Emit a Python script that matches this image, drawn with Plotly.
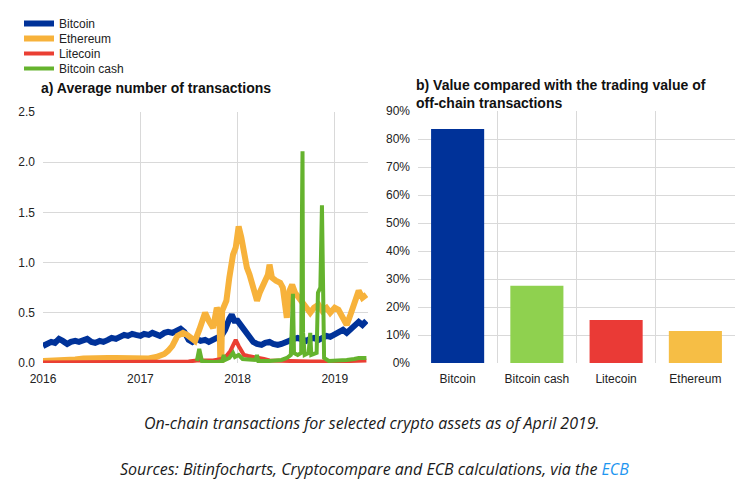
import plotly.graph_objects as go

# ---------------- data: panel a) average number of transactions ----------------
btc_dates = [
    "2016-01-01", "2016-01-15", "2016-02-01", "2016-02-15", "2016-03-01", "2016-03-15",
    "2016-04-01", "2016-04-15", "2016-05-01", "2016-05-15", "2016-06-01", "2016-06-15",
    "2016-07-01", "2016-07-15", "2016-08-01", "2016-08-15", "2016-09-01", "2016-09-15",
    "2016-10-01", "2016-10-15", "2016-11-01", "2016-11-15", "2016-12-01", "2016-12-15",
    "2017-01-01", "2017-01-15", "2017-02-01", "2017-02-15", "2017-03-01", "2017-03-15",
    "2017-04-01", "2017-04-15", "2017-05-01", "2017-05-15", "2017-06-01", "2017-06-15",
    "2017-07-01", "2017-07-15", "2017-08-01", "2017-08-15", "2017-09-01", "2017-09-15",
    "2017-10-01", "2017-10-15", "2017-11-01", "2017-11-15", "2017-12-01", "2017-12-10",
    "2017-12-20", "2018-01-01", "2018-01-15", "2018-02-01", "2018-02-15", "2018-03-01",
    "2018-03-15", "2018-04-01", "2018-04-15", "2018-05-01", "2018-05-15", "2018-06-01",
    "2018-06-15", "2018-07-01", "2018-07-15", "2018-08-01", "2018-08-15", "2018-09-01",
    "2018-09-15", "2018-10-01", "2018-10-15", "2018-11-01", "2018-11-15", "2018-12-01",
    "2018-12-15", "2019-01-01", "2019-01-15", "2019-02-01", "2019-02-15", "2019-03-01",
    "2019-03-15", "2019-04-01", "2019-04-15", "2019-04-30",
]
btc_values = [
    0.17, 0.19, 0.21, 0.20, 0.24, 0.22, 0.19, 0.21, 0.22, 0.21, 0.23, 0.24,
    0.21, 0.20, 0.22, 0.21, 0.23, 0.25, 0.24, 0.26, 0.28, 0.27, 0.29, 0.28,
    0.27, 0.29, 0.28, 0.30, 0.29, 0.27, 0.30, 0.31, 0.30, 0.32, 0.34, 0.31,
    0.23, 0.21, 0.24, 0.22, 0.23, 0.21, 0.24, 0.25, 0.27, 0.33, 0.44, 0.48,
    0.42, 0.42, 0.37, 0.30, 0.25, 0.21, 0.19, 0.18, 0.20, 0.21, 0.19, 0.18,
    0.19, 0.21, 0.23, 0.24, 0.25, 0.24, 0.22, 0.24, 0.25, 0.23, 0.25, 0.27,
    0.26, 0.29, 0.31, 0.33, 0.30, 0.34, 0.36, 0.41, 0.38, 0.42,
]

eth_dates = [
    "2016-01-01", "2016-02-01", "2016-03-01", "2016-04-01", "2016-05-01", "2016-06-01",
    "2016-07-01", "2016-08-01", "2016-09-01", "2016-10-01", "2016-11-01", "2016-12-01",
    "2017-01-01", "2017-02-01", "2017-03-01", "2017-04-01", "2017-04-15", "2017-05-01",
    "2017-05-20", "2017-06-10", "2017-06-25", "2017-07-10", "2017-07-25", "2017-08-10",
    "2017-08-20", "2017-09-01", "2017-09-15", "2017-10-01", "2017-10-15", "2017-10-25",
    "2017-10-28", "2017-11-01", "2017-11-04", "2017-11-20", "2017-12-01", "2017-12-15",
    "2017-12-25", "2018-01-05", "2018-01-15", "2018-01-25", "2018-02-05", "2018-02-15",
    "2018-03-01", "2018-03-15", "2018-03-25", "2018-04-10", "2018-04-25", "2018-05-01",
    "2018-05-10", "2018-05-25", "2018-06-10", "2018-06-20", "2018-06-28", "2018-07-05",
    "2018-07-15", "2018-07-25", "2018-08-05", "2018-08-20", "2018-09-01", "2018-09-15",
    "2018-10-01", "2018-10-15", "2018-11-01", "2018-11-15", "2018-12-01", "2018-12-15",
    "2019-01-01", "2019-01-15", "2019-02-01", "2019-02-15", "2019-03-01", "2019-03-15",
    "2019-04-01", "2019-04-15", "2019-04-30",
]
eth_values = [
    0.02, 0.02, 0.025, 0.03, 0.035, 0.045, 0.05, 0.045, 0.05, 0.05, 0.045, 0.05,
    0.05, 0.045, 0.06, 0.09, 0.12, 0.17, 0.27, 0.30, 0.28, 0.24, 0.22, 0.33,
    0.42, 0.50, 0.42, 0.35, 0.55, 0.50, 0.03, 0.03, 0.52, 0.62, 0.85, 1.08,
    1.15, 1.36, 1.25, 1.10, 0.95, 0.88, 0.75, 0.62, 0.70, 0.78, 0.88, 0.98,
    0.85, 0.82, 0.80, 0.75, 0.55, 0.45, 0.72, 0.78, 0.70, 0.65, 0.62, 0.55,
    0.50, 0.55, 0.58, 0.52, 0.55, 0.50, 0.55, 0.53, 0.45, 0.38, 0.48, 0.58,
    0.72, 0.65, 0.68,
]

ltc_dates = [
    "2016-01-01", "2016-06-01", "2017-01-01", "2017-05-01", "2017-07-01", "2017-08-01",
    "2017-09-01", "2017-10-01", "2017-11-01", "2017-11-20", "2017-12-05", "2017-12-15",
    "2017-12-25", "2018-01-05", "2018-01-15", "2018-01-25", "2018-02-10", "2018-03-01",
    "2018-03-20", "2018-04-10", "2018-05-01", "2018-07-01", "2018-10-01", "2019-01-01",
    "2019-03-01", "2019-04-30",
]
ltc_values = [
    0.005, 0.006, 0.008, 0.01, 0.015, 0.025, 0.02, 0.025, 0.04, 0.07, 0.12, 0.18,
    0.23, 0.17, 0.12, 0.08, 0.07, 0.06, 0.06, 0.04, 0.025, 0.02, 0.015, 0.015,
    0.02, 0.025,
]

bch_dates = [
    "2017-08-01", "2017-08-10", "2017-08-20", "2017-09-15", "2017-10-15", "2017-11-05",
    "2017-11-10", "2017-11-15", "2017-12-01", "2017-12-15", "2017-12-22", "2018-01-05",
    "2018-01-20", "2018-02-15", "2018-03-10", "2018-03-15", "2018-03-20", "2018-05-01",
    "2018-06-15", "2018-07-05", "2018-07-20", "2018-07-28", "2018-08-01", "2018-08-15",
    "2018-08-28", "2018-08-31", "2018-09-02", "2018-09-04", "2018-09-10", "2018-09-25",
    "2018-10-01", "2018-10-05", "2018-10-25", "2018-10-30", "2018-11-08", "2018-11-14",
    "2018-11-17", "2018-11-22", "2018-12-10", "2019-01-15", "2019-02-15", "2019-03-15",
    "2019-04-01", "2019-04-30",
]
bch_values = [
    0.02, 0.14, 0.02, 0.01, 0.01, 0.02, 0.08, 0.03, 0.05, 0.10, 0.06, 0.08,
    0.04, 0.03, 0.03, 0.08, 0.02, 0.02, 0.03, 0.05, 0.08, 0.69, 0.10, 0.08,
    0.10, 1.53, 2.11, 0.30, 0.08, 0.10, 0.30, 0.08, 0.10, 0.70, 0.75, 1.57,
    0.88, 0.05, 0.02, 0.02, 0.03, 0.04, 0.05, 0.05,
]

# ---------------- data: panel b) value vs off-chain trading value ----------------
bar_categories = ["Bitcoin", "Bitcoin cash", "Litecoin", "Ethereum"]
bar_values = [0.836, 0.276, 0.154, 0.114]

# ---------------- styles ----------------
C_BTC = "#003299"
C_ETH = "#f7b23b"
C_LTC = "#ea3f33"
C_BCH = "#65b32e"
BAR_COLORS = ["#003299", "#8fd14f", "#ea3a36", "#f6be45"]
GRID = "#d9d9d9"
TICK_FONT = dict(family="Liberation Sans, Arial, sans-serif", size=12, color="#222")
LEG_FONT = dict(family="Liberation Sans, Arial, sans-serif", size=12, color="#222")

# page body has an 8px margin: figure coordinates = target coordinates - 8
OX, OY = 8, 8
W, H = 755 - OX, 492 - OY


def px(x):
    return (x - OX) / W


def py(y):
    return 1 - (y - OY) / H


fig = go.Figure()

# one single-entry legend per series so that the entries can sit close together
legend_ids = ["legend", "legend2", "legend3", "legend4"]
legend_centers = [23, 38, 53, 68]   # target-pixel centres of the entries
LEGEND_ITEM_OFFSET = 14             # entry centre sits this far below a legend's top

series = [
    ("Bitcoin", btc_dates, btc_values, C_BTC, 6),
    ("Ethereum", eth_dates, eth_values, C_ETH, 6),
    ("Litecoin", ltc_dates, ltc_values, C_LTC, 4),
    ("Bitcoin cash", bch_dates, bch_values, C_BCH, 4),
]
for (name, xs, ys, col, w), lid in zip(series, legend_ids):
    fig.add_trace(go.Scatter(
        x=xs, y=ys, name=name, mode="lines",
        line=dict(color=col, width=w, shape="linear"),
        xaxis="x", yaxis="y", showlegend=True, legend=lid,
    ))

fig.add_trace(go.Bar(
    x=bar_categories, y=bar_values, marker=dict(color=BAR_COLORS, line=dict(width=0)),
    xaxis="x2", yaxis="y2", showlegend=False, name="Value",
))

legend_layout = {}
for lid, cy in zip(legend_ids, legend_centers):
    legend_layout[lid] = dict(
        x=px(19), y=min(1.0, py(cy - LEGEND_ITEM_OFFSET)), xanchor="left", yanchor="top",
        font=LEG_FONT, bgcolor="rgba(0,0,0,0)", borderwidth=0,
    )

fig.update_layout(
    template="none",
    width=W, height=H,
    margin=dict(l=0, r=0, t=0, b=0, pad=0),
    paper_bgcolor="white", plot_bgcolor="white",
    font=TICK_FONT,
    bargap=0.33,
    xaxis=dict(
        domain=[px(43), px(368)], type="date",
        range=["2016-01-01", "2019-05-06"],
        tickvals=["2016-01-01", "2017-01-01", "2018-01-01", "2019-01-01"],
        ticktext=["2016", "2017", "2018", "2019"],
        showgrid=True, gridcolor=GRID, gridwidth=1, zeroline=False, showline=False,
        ticks="", ticklabelstandoff=7, tickfont=TICK_FONT, anchor="y", automargin=False,
    ),
    yaxis=dict(
        domain=[py(363), py(112)], range=[0, 2.5], dtick=0.5, tickformat=".1f",
        showgrid=True, gridcolor=GRID, gridwidth=1, zeroline=False, showline=False,
        ticks="", ticklabelstandoff=7, tickfont=TICK_FONT, anchor="x", automargin=False,
    ),
    xaxis2=dict(
        domain=[px(418), px(735)], type="category", tickson="boundaries",
        showgrid=True, gridcolor=GRID, gridwidth=1, zeroline=False, showline=False,
        ticks="", ticklabelstandoff=7, tickfont=TICK_FONT, anchor="y2", automargin=False,
    ),
    yaxis2=dict(
        domain=[py(363), py(111)], range=[0, 0.9], dtick=0.1, tickformat=".0%",
        showgrid=True, gridcolor=GRID, gridwidth=1, zeroline=False, showline=False,
        ticks="", ticklabelstandoff=7, tickfont=TICK_FONT, anchor="x2", automargin=False,
    ),
    **legend_layout,
)

TITLE_FONT = dict(family="Liberation Sans, Arial, sans-serif", size=14, color="#111", weight="bold")
CAP_FONT = dict(family="Open Sans, Noto Sans, sans-serif", size=16, color="#1a1a1a", style="italic")

fig.add_annotation(
    text="a) Average number of transactions", xref="paper", yref="paper",
    x=px(39), y=py(88), xanchor="left", yanchor="middle", showarrow=False,
    font=TITLE_FONT,
)
fig.add_annotation(
    text="b) Value compared with the trading value of<br>off-chain transactions",
    xref="paper", yref="paper", x=px(414), y=py(93.5), xanchor="left", yanchor="middle",
    align="left", showarrow=False, font=TITLE_FONT,
)
fig.add_annotation(
    text="On-chain transactions for selected crypto assets as of April 2019.",
    xref="paper", yref="paper", x=px(372), y=py(423), xanchor="center", yanchor="middle",
    showarrow=False, font=CAP_FONT,
)
fig.add_annotation(
    text="Sources: Bitinfocharts, Cryptocompare and ECB calculations, via the "
         "<span style='color:#1e96f0'>ECB</span>",
    xref="paper", yref="paper", x=px(374), y=py(469), xanchor="center", yanchor="middle",
    showarrow=False, font=CAP_FONT,
)

fig.write_html("out.html")
